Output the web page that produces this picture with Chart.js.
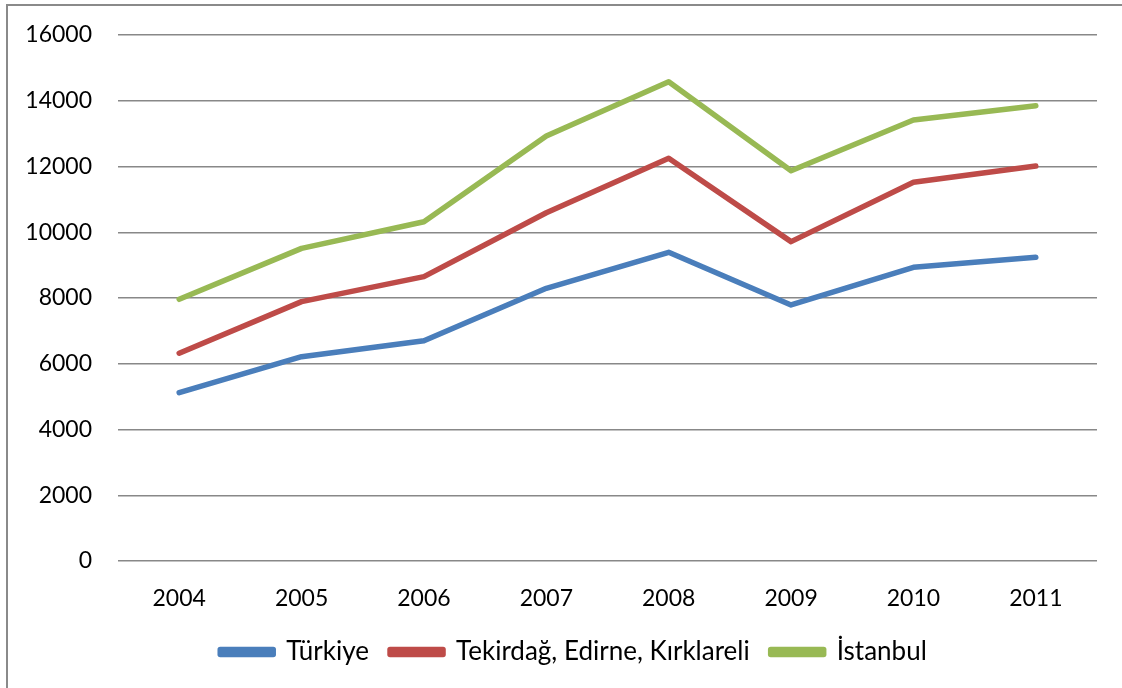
<!DOCTYPE html>
<html>
<head>
<meta charset="utf-8">
<script src="https://cdn.jsdelivr.net/npm/chart.js@4"></script>
<style>
    html, body { margin: 0; padding: 0; background: #fff; }
    #wrap { position: relative; width: 1122px; height: 688px; }
    #frame {
        position: absolute; left: 6px; top: 4px; right: 0; bottom: 0;
        border-left: 2px solid #8a8a8a; border-top: 2px solid #8a8a8a;
        pointer-events: none;
    }
</style>
</head>
<body>
<div id="wrap">
    <canvas id="chart" width="1122" height="688"></canvas>
    <div id="frame"></div>
</div>
<script>
// Years on the x axis.
const YEARS = ['2004', '2005', '2006', '2007', '2008', '2009', '2010', '2011'];

// Series values.
const TURKIYE = [5120, 6215, 6700, 8295, 9390, 7790, 8935, 9240];
const TEKIRDAG = [6320, 7890, 8650, 10595, 12250, 9715, 11520, 12015];
const ISTANBUL = [7960, 9510, 10320, 12930, 14580, 11870, 13415, 13850];

const SERIES_NAMES = ['Türkiye', 'Tekirdağ, Edirne, Kırklareli', 'İstanbul'];
const SERIES_COLORS = ['#4a7ebb', '#be4b48', '#98b954'];

const Y_MIN = 0;
const Y_MAX = 16000;
const Y_STEP = 2000;

const AXIS_FONT = { family: 'Lato, "Open Sans", sans-serif', size: 23 };
const LEGEND_FONT = { family: 'Lato, "Open Sans", sans-serif', size: 26 };

// The legend in the original sits a bit right of the canvas centre.
const legendShift = {
    id: 'legendShift',
    afterLayout(chart) {
        if (!chart.legend) return;
        chart.legend.left += 21;
        chart.legend.right += 21;
    },
};

const datasets = [TURKIYE, TEKIRDAG, ISTANBUL].map((values, i) => ({
    label: SERIES_NAMES[i],
    data: values,
    borderColor: SERIES_COLORS[i],
    backgroundColor: SERIES_COLORS[i],
    borderWidth: 5.5,
    pointRadius: 0,
    tension: 0,
    borderCapStyle: 'round',
    borderJoinStyle: 'round',
}));

new Chart(document.getElementById('chart').getContext('2d'), {
    type: 'line',
    data: { labels: YEARS, datasets },
    plugins: [legendShift],
    options: {
        responsive: false,
        animation: false,
        devicePixelRatio: 1,
        layout: { padding: { left: 8, right: 25, top: 35, bottom: 13 } },
        scales: {
            x: {
                offset: true,
                grid: { display: false },
                border: { display: false },
                ticks: { color: '#000', font: AXIS_FONT, padding: 16, maxRotation: 0 },
                afterFit: (scale) => { scale.height = 57; },
            },
            y: {
                min: Y_MIN,
                max: Y_MAX,
                grid: { color: '#888', lineWidth: 1.5, drawTicks: false },
                border: { display: false },
                ticks: {
                    stepSize: Y_STEP,
                    color: '#000',
                    font: AXIS_FONT,
                    padding: 26,
                    callback: (v) => String(v),
                },
                afterFit: (scale) => {
                    scale.width = 110;
                    scale.paddingTop = 0;
                    scale.paddingBottom = 0;
                },
            },
        },
        plugins: {
            legend: {
                position: 'bottom',
                labels: {
                    color: '#000',
                    font: LEGEND_FONT,
                    boxWidth: 53,
                    boxHeight: 5,
                    padding: 21,
                },
            },
            tooltip: { enabled: false },
        },
    },
});
</script>
</body>
</html>
